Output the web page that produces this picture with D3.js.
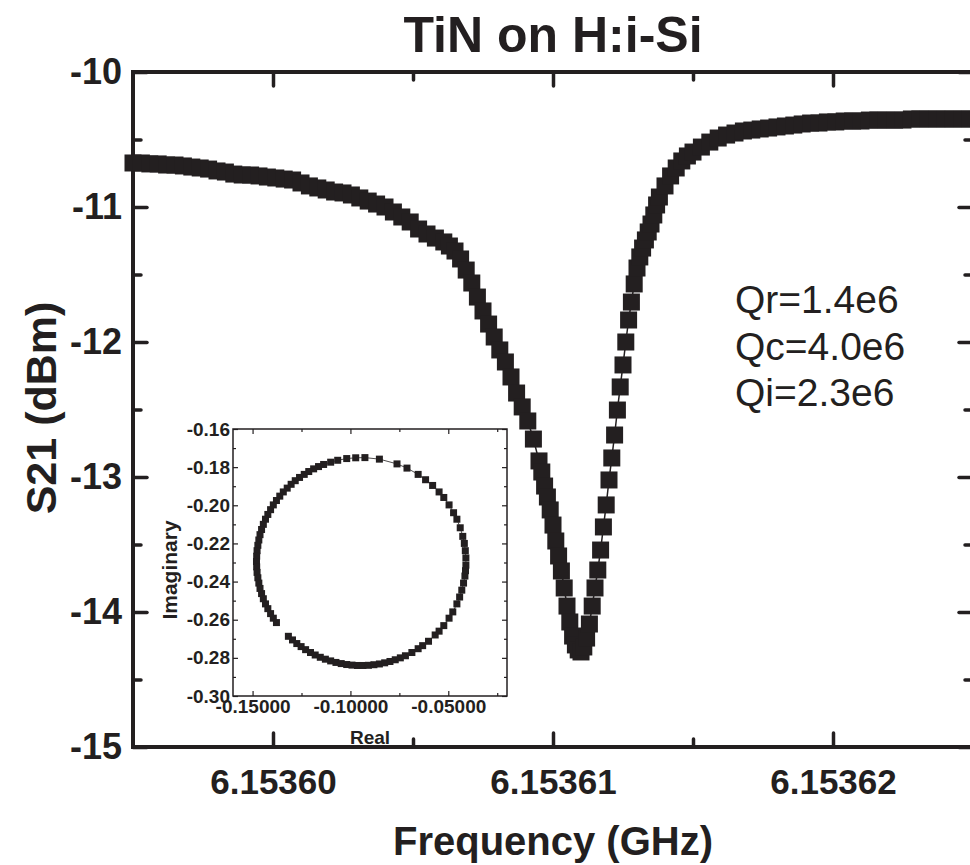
<!DOCTYPE html>
<html>
<head>
<meta charset="utf-8">
<script src="https://cdn.jsdelivr.net/npm/d3@7"></script>
<style>
  body { margin: 0; background: #fff; }
  text { font-family: "Liberation Sans", Arial, sans-serif; fill: #231f20; }
</style>
</head>
<body>
<div id="chart"></div>
<script>
// main trace: frequency (GHz) and S21 (dBm)
var freq = [
  6.1535950, 6.1535953, 6.1535956, 6.1535959, 6.1535962, 6.1535965, 6.1535968, 6.1535971,
  6.1535974, 6.1535977, 6.1535980, 6.1535983, 6.1535986, 6.1535989, 6.1535992, 6.1535995,
  6.1535998, 6.1536001, 6.1536004, 6.1536007, 6.1536010, 6.1536013, 6.1536016, 6.1536019,
  6.1536022, 6.1536025, 6.1536028, 6.1536031, 6.1536034, 6.1536037, 6.1536040, 6.1536043,
  6.1536046, 6.1536049, 6.1536052, 6.1536055, 6.1536058, 6.1536061, 6.1536063, 6.1536065,
  6.1536067, 6.1536069, 6.1536071, 6.1536073, 6.1536075, 6.1536077, 6.1536079, 6.1536081,
  6.1536083, 6.1536085, 6.1536087, 6.1536089, 6.1536091, 6.1536093, 6.1536095, 6.1536096,
  6.1536097, 6.1536098, 6.1536099, 6.1536100, 6.1536101, 6.1536102, 6.1536103, 6.1536104,
  6.1536105, 6.1536106, 6.1536107, 6.1536108, 6.1536109, 6.1536110, 6.1536111, 6.1536112,
  6.1536113, 6.1536114, 6.1536115, 6.1536116, 6.1536117, 6.1536118, 6.1536119, 6.1536120,
  6.1536121, 6.1536122, 6.1536123, 6.1536124, 6.1536125, 6.1536126, 6.1536127, 6.1536128,
  6.1536129, 6.1536130, 6.1536131, 6.1536132, 6.1536133, 6.1536134, 6.1536135, 6.1536136,
  6.1536137, 6.1536138, 6.1536140, 6.1536142, 6.1536144, 6.1536146, 6.1536148, 6.1536150,
  6.1536153, 6.1536156, 6.1536159, 6.1536162, 6.1536165, 6.1536168, 6.1536171, 6.1536174,
  6.1536177, 6.1536180, 6.1536183, 6.1536186, 6.1536189, 6.1536192, 6.1536195, 6.1536198,
  6.1536201, 6.1536204, 6.1536207, 6.1536210, 6.1536213, 6.1536216, 6.1536219, 6.1536222,
  6.1536225, 6.1536228, 6.1536231, 6.1536234, 6.1536237, 6.1536240, 6.1536243, 6.1536246,
  6.1536249
];
var s21 = [
  -10.674, -10.674, -10.681, -10.681, -10.689, -10.689, -10.696, -10.704,
  -10.711, -10.719, -10.733, -10.741, -10.756, -10.763, -10.763, -10.770,
  -10.778, -10.785, -10.793, -10.800, -10.822, -10.844, -10.859, -10.874,
  -10.889, -10.896, -10.911, -10.933, -10.956, -10.978, -11.000, -11.037,
  -11.074, -11.111, -11.163, -11.200, -11.230, -11.259, -11.289, -11.326,
  -11.385, -11.467, -11.563, -11.667, -11.770, -11.867, -11.963, -12.059,
  -12.148, -12.259, -12.378, -12.481, -12.585, -12.719, -12.881, -12.963,
  -13.067, -13.148, -13.244, -13.356, -13.474, -13.585, -13.696, -13.822,
  -13.956, -14.074, -14.178, -14.244, -14.281, -14.296, -14.259, -14.193,
  -14.089, -13.956, -13.822, -13.689, -13.541, -13.370, -13.207, -13.022,
  -12.859, -12.689, -12.504, -12.333, -12.170, -12.000, -11.837, -11.704,
  -11.570, -11.452, -11.370, -11.304, -11.244, -11.185, -11.126, -11.059,
  -10.985, -10.926, -10.844, -10.770, -10.711, -10.659, -10.622, -10.593,
  -10.556, -10.519, -10.489, -10.467, -10.452, -10.437, -10.430, -10.422,
  -10.415, -10.407, -10.400, -10.393, -10.385, -10.378, -10.378, -10.370,
  -10.370, -10.363, -10.363, -10.363, -10.356, -10.356, -10.356, -10.356,
  -10.356, -10.348, -10.348, -10.348, -10.348, -10.348, -10.348, -10.348,
  -10.348
];

// inset: resonance circle in the complex plane
var circRe = [
  -0.1317, -0.1296, -0.1274, -0.1252, -0.1229, -0.1204, -0.1180, -0.1154, -0.1128, -0.1101,
  -0.1074, -0.1047, -0.1019, -0.0992, -0.0964, -0.0936, -0.0908, -0.0880, -0.0852, -0.0825,
  -0.0798, -0.0771, -0.0745, -0.0719, -0.0686, -0.0654, -0.0631, -0.0601, -0.0567, -0.0547,
  -0.0523, -0.0496, -0.0477, -0.0456, -0.0442, -0.0431, -0.0422, -0.0415, -0.0412, -0.0410,
  -0.0410, -0.0413, -0.0418, -0.0426, -0.0439, -0.0456, -0.0473, -0.0496, -0.0523, -0.0547,
  -0.0580, -0.0616, -0.0654, -0.0711, -0.0762, -0.0852, -0.0926, -0.0973, -0.1019, -0.1065,
  -0.1101, -0.1137, -0.1163, -0.1188, -0.1213, -0.1236, -0.1260, -0.1282, -0.1303, -0.1323,
  -0.1343, -0.1361, -0.1378, -0.1394, -0.1408, -0.1422, -0.1434, -0.1445, -0.1454, -0.1462,
  -0.1468, -0.1473, -0.1477, -0.1479, -0.1480, -0.1479, -0.1477, -0.1473, -0.1468, -0.1462,
  -0.1454, -0.1445, -0.1434, -0.1422, -0.1408, -0.1394, -0.1378
];
var circIm = [
  -0.2687, -0.2706, -0.2725, -0.2741, -0.2757, -0.2772, -0.2785, -0.2797, -0.2807, -0.2816,
  -0.2824, -0.2830, -0.2835, -0.2838, -0.2840, -0.2840, -0.2839, -0.2836, -0.2832, -0.2826,
  -0.2819, -0.2810, -0.2800, -0.2789, -0.2772, -0.2752, -0.2736, -0.2713, -0.2680, -0.2660,
  -0.2631, -0.2592, -0.2559, -0.2517, -0.2481, -0.2445, -0.2408, -0.2371, -0.2343, -0.2314,
  -0.2276, -0.2238, -0.2200, -0.2163, -0.2118, -0.2073, -0.2039, -0.1998, -0.1959, -0.1930,
  -0.1896, -0.1866, -0.1838, -0.1805, -0.1783, -0.1758, -0.1750, -0.1751, -0.1755, -0.1764,
  -0.1774, -0.1786, -0.1797, -0.1809, -0.1823, -0.1838, -0.1854, -0.1871, -0.1890, -0.1910,
  -0.1930, -0.1952, -0.1975, -0.1998, -0.2023, -0.2048, -0.2073, -0.2100, -0.2127, -0.2154,
  -0.2182, -0.2210, -0.2238, -0.2267, -0.2295, -0.2323, -0.2352, -0.2380, -0.2408, -0.2436,
  -0.2463, -0.2490, -0.2517, -0.2542, -0.2568, -0.2592, -0.2615
];

var xTicks = [6.15360, 6.15361, 6.15362];
var xMinor = [6.153605, 6.153615];
var yTicks = [-10, -11, -12, -13, -14, -15];
var yMinor = [-10.5, -11.5, -12.5, -13.5, -14.5];
var qLabels = ["Qr=1.4e6", "Qc=4.0e6", "Qi=2.3e6"];
var insetXTicks = [-0.15, -0.10, -0.05];
var insetXMinor = [-0.125, -0.075, -0.025];
var insetYTicks = [-0.16, -0.18, -0.20, -0.22, -0.24, -0.26, -0.28, -0.30];
var insetYMinor = [-0.17, -0.19, -0.21, -0.23, -0.25, -0.27, -0.29];

    width = 970;
    height = 865;
var ink = '#231f20';

var svg = d3.select('#chart').append('svg')
    .attr('width', width)
    .attr('height', height)
    g = svg.append('g');

var xScale = d3.scaleLinear().domain([6.153595, 6.153625]).range([133, 973]);
var yScale = d3.scaleLinear().domain([-10, -15]).range([72, 747]);

var pts = freq.map(function(f, i) { return [f, s21[i]]; });

// axes, ticks point inward
function styleAxis(sel, w) {
    sel.select('.domain').remove();
    sel.selectAll('line').attr('stroke', ink).attr('stroke-width', w).attr('stroke-linecap', 'round');
    sel.selectAll('text').attr('fill', ink);
}

g.append('g').attr('transform', 'translate(0,747)')
    .call(d3.axisBottom(xScale).tickValues(xTicks).tickSize(-14).tickSizeOuter(0).tickPadding(22)
        .tickFormat(function(d) { return d.toFixed(5); }))
    .call(styleAxis, 3.5)
    .selectAll('text').style('font-size', '35px').style('font-weight', 'bold').style('font-family', '"Liberation Sans", Arial, sans-serif');
g.append('g').attr('transform', 'translate(0,747)')
    .call(d3.axisBottom(xScale).tickValues(xMinor).tickSize(-8).tickSizeOuter(0).tickFormat(''))
    .call(styleAxis, 3.5);
g.append('g').attr('transform', 'translate(0,72)')
    .call(d3.axisTop(xScale).tickValues(xTicks).tickSize(-14).tickSizeOuter(0).tickFormat(''))
    .call(styleAxis, 3.5);
g.append('g').attr('transform', 'translate(0,72)')
    .call(d3.axisTop(xScale).tickValues(xMinor).tickSize(-8).tickSizeOuter(0).tickFormat(''))
    .call(styleAxis, 3.5);

g.append('g').attr('transform', 'translate(133,0)')
    .call(d3.axisLeft(yScale).tickValues(yTicks).tickSize(-14).tickSizeOuter(0).tickPadding(11)
        .tickFormat(function(d) { return d.toString(); }))
    .call(styleAxis, 3.5)
    .selectAll('text').style('font-size', '36px').style('font-weight', 'bold').style('font-family', '"Liberation Sans", Arial, sans-serif');
g.append('g').attr('transform', 'translate(133,0)')
    .call(d3.axisLeft(yScale).tickValues(yMinor).tickSize(-8).tickSizeOuter(0).tickFormat(''))
    .call(styleAxis, 3.5);
g.append('g').attr('transform', 'translate(973,0)')
    .call(d3.axisRight(yScale).tickValues(yTicks).tickSize(-14).tickSizeOuter(0).tickFormat(''))
    .call(styleAxis, 3.5);
g.append('g').attr('transform', 'translate(973,0)')
    .call(d3.axisRight(yScale).tickValues(yMinor).tickSize(-8).tickSizeOuter(0).tickFormat(''))
    .call(styleAxis, 3.5);

// frame
g.append('rect')
    .attr('x', xScale.range()[0]).attr('y', yScale.range()[0])
    .attr('width', xScale.range()[1] - xScale.range()[0])
    .attr('height', yScale.range()[1] - yScale.range()[0])
    .attr('fill', 'none').attr('stroke', ink).attr('stroke-width', 4);

// trace: thin connecting line plus square markers
var path = d3.line()
    .x(function(d) { return xScale(d[0]); })
    .y(function(d) { return yScale(d[1]); });

g.append('path').datum(pts)
    .attr('d', path).attr('fill', 'none').attr('stroke', ink).attr('stroke-width', 1.5);

var sq = 17;
g.selectAll('.mark').data(pts).enter().append('rect').attr('class', 'mark')
    .attr('x', function(d) { return xScale(d[0]) - sq / 2; })
    .attr('y', function(d) { return yScale(d[1]) - sq / 2; })
    .attr('width', sq).attr('height', sq)
    .attr('fill', ink);

// Q values
g.selectAll('.qlab').data(qLabels).enter().append('text').attr('class', 'qlab')
    .attr('x', 735)
    .attr('y', function(d, i) { return 313 + i * 46.5; })
    .style('font-size', '39px')
    .text(function(d) { return d; });

// titles
svg.append('text').attr('x', 553).attr('y', 52).attr('text-anchor', 'middle')
    .style('font-size', '50px').style('font-weight', 'bold').text('TiN on H:i-Si');
svg.append('text').attr('x', 553).attr('y', 855).attr('text-anchor', 'middle')
    .style('font-size', '40px').style('font-weight', 'bold').text('Frequency (GHz)');
svg.append('text').attr('transform', 'translate(56,408) rotate(-90)').attr('text-anchor', 'middle')
    .style('font-size', '43px').style('font-weight', 'bold').text('S21 (dBm)');

// inset
var xi = d3.scaleLinear().domain([-0.16, -0.02]).range([233, 507]);
var yi = d3.scaleLinear().domain([-0.30, -0.16]).range([696, 429]);
var inset = svg.append('g');

inset.append('rect')
    .attr('x', 233).attr('y', 429).attr('width', 274).attr('height', 267)
    .attr('fill', '#fff');

function insetAxis(gen, tx, ty, vals, len, fmt) {
    var a = inset.append('g').attr('transform', 'translate(' + tx + ',' + ty + ')')
        .call(gen.tickValues(vals).tickSize(-len).tickSizeOuter(0).tickPadding(3).tickFormat(fmt || ''));
    a.select('.domain').remove();
    a.selectAll('line').attr('stroke', ink).attr('stroke-width', 1.2);
    a.selectAll('text').attr('fill', ink)
        .style('font-size', '19px').style('font-weight', 'bold').style('font-family', '"Liberation Sans", Arial, sans-serif');
    return a;
}
insetAxis(d3.axisBottom(xi), 0, 696, insetXTicks, 5, function(d) { return d.toFixed(5); });
insetAxis(d3.axisBottom(xi), 0, 696, insetXMinor, 3);
insetAxis(d3.axisTop(xi), 0, 429, insetXTicks, 5);
insetAxis(d3.axisTop(xi), 0, 429, insetXMinor, 3);
insetAxis(d3.axisLeft(yi), 233, 0, insetYTicks, 5, function(d) { return d.toFixed(2); });
insetAxis(d3.axisLeft(yi), 233, 0, insetYMinor, 3);
insetAxis(d3.axisRight(yi), 507, 0, insetYTicks, 5);
insetAxis(d3.axisRight(yi), 507, 0, insetYMinor, 3);

inset.append('rect')
    .attr('x', 233).attr('y', 429).attr('width', 274).attr('height', 267)
    .attr('fill', 'none').attr('stroke', ink).attr('stroke-width', 1.5);

var cpts = circRe.map(function(r, i) { return [r, circIm[i]]; });
var cline = d3.line()
    .x(function(d) { return xi(d[0]); })
    .y(function(d) { return yi(d[1]); });
inset.append('path').datum(cpts)
    .attr('d', cline).attr('fill', 'none').attr('stroke', ink).attr('stroke-width', 0.8);

var csq = 7;
inset.selectAll('.cmark').data(cpts).enter().append('rect').attr('class', 'cmark')
    .attr('x', function(d) { return xi(d[0]) - csq / 2; })
    .attr('y', function(d) { return yi(d[1]) - csq / 2; })
    .attr('width', csq).attr('height', csq)
    .attr('fill', ink);

inset.append('text').attr('x', 370).attr('y', 744).attr('text-anchor', 'middle')
    .style('font-size', '19px').style('font-weight', 'bold').text('Real');
inset.append('text').attr('transform', 'translate(177,570) rotate(-90)').attr('text-anchor', 'middle')
    .style('font-size', '21px').style('font-weight', 'bold').text('Imaginary');
</script>
</body>
</html>
